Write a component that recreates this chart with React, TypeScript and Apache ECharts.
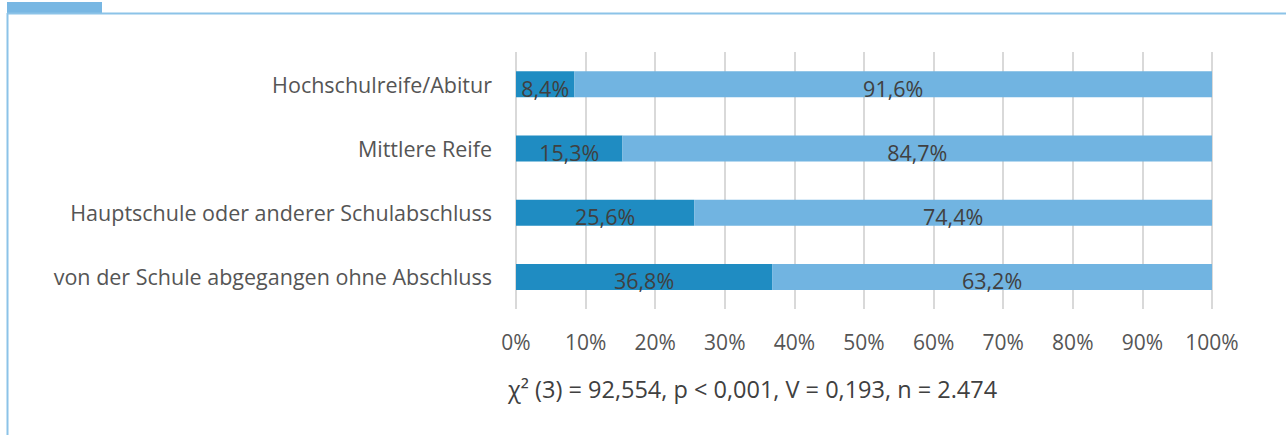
import React, { useEffect, useRef } from "react";
import * as echarts from "echarts";

const categories = [
  "von der Schule abgegangen ohne Abschluss",
  "Hauptschule oder anderer Schulabschluss",
  "Mittlere Reife",
  "Hochschulreife/Abitur",
];
const seriesA = [36.8, 25.6, 15.3, 8.4];
const seriesB = [63.2, 74.4, 84.7, 91.6];
const footnote = "χ² (3) = 92,554, p < 0,001, V = 0,193, n = 2.474";

const FONT = "'Open Sans', sans-serif";
const TXT = "#404040";

export default function App() {
  const ref = useRef<HTMLDivElement>(null);
  useEffect(() => {
    const chart = echarts.init(ref.current!, null, { renderer: "svg" });
    const fmt = (p: any) => p.value.toFixed(1).replace(".", ",") + "%";
    const lbl = {
      show: true,
      position: "inside",
      formatter: fmt,
      color: TXT,
      fontSize: 21.5,
      fontFamily: FONT,
      offset: [0, 4],
    };
    chart.setOption({
      animation: false,
      textStyle: { fontFamily: FONT },
      grid: { left: 516, right: 74, top: 52, height: 257 },
      xAxis: {
        type: "value",
        min: 0,
        max: 100,
        interval: 10,
        axisLabel: {
          formatter: "{value}%",
          color: "#555",
          fontSize: 21,
          fontFamily: FONT,
          margin: 22,
        },
        axisLine: { show: false },
        axisTick: { show: false },
        splitLine: { lineStyle: { color: "#d9d9d9", width: 2 } },
      },
      yAxis: {
        type: "category",
        data: categories,
        axisLine: { show: false },
        axisTick: { show: false },
        axisLabel: { color: "#555", fontSize: 21.5, fontFamily: FONT, margin: 24 },
      },
      series: [
        {
          type: "bar",
          stack: "s",
          data: seriesA,
          barWidth: 26,
          itemStyle: { color: "#1f8cc2" },
          label: lbl,
        },
        {
          type: "bar",
          stack: "s",
          data: seriesB,
          barWidth: 26,
          itemStyle: { color: "#71b4e1" },
          label: lbl,
        },
      ],
      graphic: [
        { type: "rect", shape: { x: 7, y: 2, width: 95, height: 11 }, style: { fill: "#78b7e3" } },
        { type: "line", shape: { x1: 7, y1: 13.5, x2: 1286, y2: 13.5 }, style: { stroke: "#8cc3e8", lineWidth: 2 } },
        { type: "line", shape: { x1: 7.5, y1: 13, x2: 7.5, y2: 435 }, style: { stroke: "#8cc3e8", lineWidth: 2 } },
        {
          type: "text",
          x: 508,
          y: 389,
          style: {
            text: footnote,
            fill: TXT,
            font: `23.5px ${FONT}`,
            textVerticalAlign: "middle",
          },
        },
      ],
    });
    return () => chart.dispose();
  }, []);
  return (
    <div
      ref={ref}
      style={{ position: "absolute", left: 0, top: 0, width: 1286, height: 435, background: "#fff" }}
    />
  );
}
